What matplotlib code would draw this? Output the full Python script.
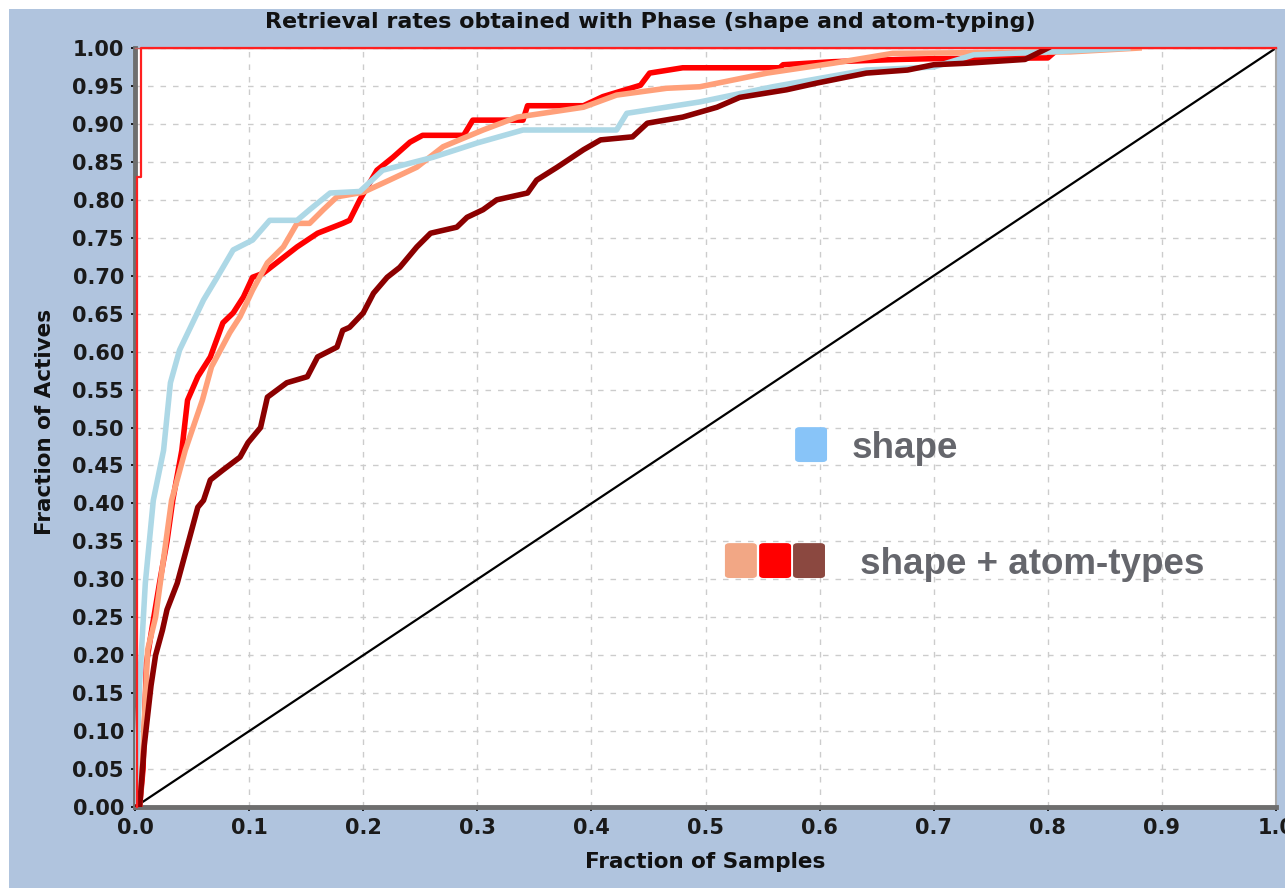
import numpy as np
import matplotlib.pyplot as plt
from matplotlib.patches import Rectangle, FancyBboxPatch

# ==================== 数据 ====================
shape_x = [0.0, 0.002, 0.004, 0.009, 0.016, 0.025, 0.031, 0.039, 0.053, 0.060, 0.072, 0.086, 0.103, 0.118,
           0.142, 0.153, 0.171, 0.197, 0.217, 0.261, 0.300, 0.340, 0.422, 0.431, 0.495, 0.559, 0.641, 0.700,
           0.735, 0.802, 0.870]
shape_y = [0.0, 0.08, 0.163, 0.295, 0.404, 0.47, 0.559, 0.602, 0.646, 0.668, 0.698, 0.734, 0.747, 0.773,
           0.773, 0.787, 0.809, 0.811, 0.839, 0.856, 0.875, 0.892, 0.892, 0.914, 0.929, 0.949, 0.971, 0.975,
           0.991, 0.995, 1.0]

salmon_x = [0.0, 0.004, 0.007, 0.011, 0.018, 0.024, 0.032, 0.044, 0.059, 0.067, 0.083, 0.092, 0.103, 0.116,
            0.130, 0.142, 0.153, 0.165, 0.177, 0.200, 0.223, 0.247, 0.270, 0.305, 0.335, 0.393, 0.422, 0.466,
            0.495, 0.554, 0.612, 0.664, 0.820, 0.880]
salmon_y = [0.0, 0.0, 0.075, 0.207, 0.25, 0.316, 0.404, 0.47, 0.536, 0.58, 0.625, 0.646, 0.681, 0.717,
            0.738, 0.769, 0.769, 0.787, 0.804, 0.81, 0.826, 0.843, 0.87, 0.892, 0.909, 0.922, 0.938, 0.947,
            0.949, 0.967, 0.98, 0.993, 0.995, 1.0]

red_x = [0.0, 0.004, 0.007, 0.010, 0.015, 0.022, 0.028, 0.033, 0.041, 0.046, 0.055, 0.066, 0.077, 0.086,
         0.095, 0.103, 0.112, 0.124, 0.142, 0.160, 0.182, 0.188, 0.197, 0.212, 0.226, 0.241, 0.252, 0.288,
         0.296, 0.340, 0.344, 0.393, 0.410, 0.443, 0.451, 0.480, 0.565, 0.568, 0.612, 0.670, 0.700, 0.800,
         0.810]
red_y = [0.0, 0.0, 0.05, 0.19, 0.237, 0.30, 0.35, 0.404, 0.47, 0.536, 0.567, 0.593, 0.638, 0.651,
         0.672, 0.698, 0.703, 0.717, 0.738, 0.756, 0.769, 0.773, 0.80, 0.839, 0.856, 0.876, 0.885, 0.885,
         0.905, 0.905, 0.924, 0.924, 0.936, 0.951, 0.967, 0.974, 0.974, 0.978, 0.982, 0.985, 0.986, 0.987,
         1.0]

dark_x = [0.0, 0.004, 0.008, 0.014, 0.018, 0.024, 0.028, 0.037, 0.048, 0.055, 0.060, 0.066, 0.077, 0.092,
          0.099, 0.110, 0.116, 0.133, 0.151, 0.160, 0.177, 0.182, 0.188, 0.200, 0.209, 0.221, 0.232, 0.247,
          0.259, 0.282, 0.291, 0.305, 0.317, 0.344, 0.352, 0.370, 0.393, 0.408, 0.436, 0.449, 0.480, 0.510,
          0.530, 0.571, 0.598, 0.641, 0.677, 0.700, 0.729, 0.780, 0.800]
dark_y = [0.0, 0.0, 0.08, 0.16, 0.2, 0.233, 0.26, 0.295, 0.356, 0.395, 0.404, 0.431, 0.444, 0.461,
          0.48, 0.50, 0.54, 0.559, 0.567, 0.593, 0.606, 0.628, 0.632, 0.651, 0.677, 0.698, 0.711, 0.738,
          0.756, 0.764, 0.777, 0.787, 0.80, 0.809, 0.826, 0.843, 0.866, 0.879, 0.883, 0.901, 0.909, 0.922,
          0.935, 0.945, 0.954, 0.967, 0.971, 0.978, 0.98, 0.985, 1.0]

# 理想曲线 (细红线)
ideal_x = [0.002, 0.002, 0.005, 0.005, 1.0]
ideal_y = [0.0, 0.83, 0.83, 1.0, 1.0]

x_ticks = np.arange(0, 1.01, 0.1)
y_ticks = np.arange(0, 1.001, 0.05)

# ==================== 画布 ====================
fig = plt.figure(figsize=(12.85, 8.88), dpi=100, facecolor='#b0c4de')
# 左侧和顶部的白边
fig.patches.append(Rectangle((0, 0), 9 / 1285, 1, transform=fig.transFigure,
                             facecolor='white', edgecolor='none', zorder=-10))
fig.patches.append(Rectangle((0, 1 - 9 / 888), 1, 9 / 888, transform=fig.transFigure,
                             facecolor='white', edgecolor='none', zorder=-10))

ax = fig.add_axes([0.1051, 0.0912, 0.993 - 0.1051, 0.9459 - 0.0912])
ax.set_facecolor('white')
ax.set_xlim(0, 1)
ax.set_ylim(0, 1)

ax.grid(True, color='#cccccc', linestyle=(0, (4, 5)), linewidth=1)
ax.set_axisbelow(True)

# 曲线
ax.plot([0, 1], [0, 1], color='black', lw=1.6, zorder=2)
ax.plot(red_x, red_y, color='#ff0000', lw=4.0, zorder=3)
ax.plot(salmon_x, salmon_y, color='#ffa07a', lw=4.0, zorder=4)
ax.plot(shape_x, shape_y, color='#add8e6', lw=4.0, zorder=5)
ax.plot(dark_x, dark_y, color='#8b0000', lw=4.0, zorder=6)
ax.plot(ideal_x, ideal_y, color='#ff2020', lw=1.6, zorder=7, clip_on=False)

# 坐标轴样式
ax.set_xticks(x_ticks)
ax.set_yticks(y_ticks)
ax.set_xticklabels([f'{v:.1f}' for v in x_ticks])
ax.set_yticklabels([f'{v:.2f}' for v in y_ticks])
ax.tick_params(direction='out', length=3, width=1.2, colors='black', pad=5, labelsize=15)
for lab in ax.get_xticklabels() + ax.get_yticklabels():
    lab.set_fontweight('bold')
    lab.set_color('#1a1a1a')

for side in ['left', 'bottom']:
    ax.spines[side].set_color('#6e6e6e')
    ax.spines[side].set_linewidth(3.5)
ax.spines['right'].set_color('#a8a8a8')
ax.spines['right'].set_linewidth(1.5)
ax.spines['top'].set_color('#c86060')
ax.spines['top'].set_linewidth(1)

# 标题与轴标签
fig.text(0.506, 0.975, 'Retrieval rates obtained with Phase (shape and atom-typing)',
         ha='center', va='center', fontsize=16, fontweight='bold', color='#111111')
fig.text(0.5486, 0.0293, 'Fraction of Samples', ha='center', va='center',
         fontsize=15.5, fontweight='bold', color='#111111')
fig.text(0.035, 0.5248, 'Fraction of Actives', ha='center', va='center', rotation=90,
         fontsize=15.5, fontweight='bold', color='#111111')

# ==================== 图例 ====================
legend_boxes = [
    (0.5785, 0.4545, '#88c4f8'),
    (0.517, 0.3017, '#f2a785'),
    (0.547, 0.3017, '#ff0000'),
    (0.5767, 0.3017, '#8b4840'),
]
for bx, by, col in legend_boxes:
    ax.add_patch(FancyBboxPatch((bx, by), 0.028, 0.046,
                                boxstyle='round,pad=0,rounding_size=0.004',
                                facecolor=col, edgecolor='none', zorder=8))

ax.text(0.628, 0.46, 'shape', fontsize=26.5, fontweight='bold', color='#65666c',
        family='Liberation Sans', va='baseline', ha='left', zorder=9)
ax.text(0.635, 0.307, 'shape + atom-types', fontsize=26.5, fontweight='bold', color='#65666c',
        family='Liberation Sans', va='baseline', ha='left', zorder=9)

plt.savefig('out.png', dpi=100, facecolor=fig.get_facecolor())
plt.close()
